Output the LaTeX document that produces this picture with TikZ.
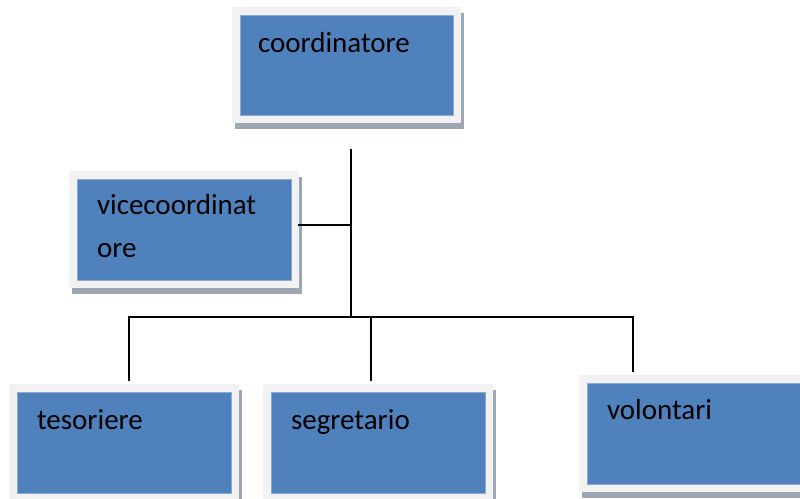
\documentclass[tikz,border=0pt]{standalone}
\usepackage{fontspec}
\setmainfont{Carlito}
\usetikzlibrary{shadows}

\definecolor{boxblue}{RGB}{79,129,189}
\definecolor{boxedge}{RGB}{140,170,215}
\definecolor{framegray}{RGB}{242,242,242}
\definecolor{shadowgray}{RGB}{158,166,180}

\tikzset{
  orgbox/.style={rectangle, fill=framegray, inner sep=0pt,
    minimum width=230pt, minimum height=117pt,
    drop shadow={shadow xshift=3pt, shadow yshift=-6pt, fill=shadowgray, opacity=1},
    path picture={\fill[boxblue, draw=boxedge, line width=.8pt]
      ([shift={(8pt,-8pt)}]path picture bounding box.north west) rectangle
      ([shift={(-8pt,8pt)}]path picture bounding box.south east);}},
  boxtext/.style={anchor=base west, inner sep=0pt, align=left,
    font=\fontsize{29}{43}\selectfont},
  link/.style={line width=2.2pt, line cap=rect}
}

\begin{document}
\begin{tikzpicture}[x=1pt, y=-1pt]
  \useasboundingbox (0,0) rectangle (800,498);
  % boxes
  \node[orgbox, minimum width=229pt, minimum height=116pt] (coord) at (346.5,65) {};
  \node[orgbox] (vice) at (184,229.5) {};
  \node[orgbox] (tes) at (124,442.5) {};
  \node[orgbox] (seg) at (378,442.5) {};
  \node[orgbox] (vol) at (694,433.5) {};
  % labels (base of a two-line node is its last line)
  \node[boxtext] (coordtxt) at ([shift={(26pt,-46pt)}]coord.north west) {coordinatore};
  \node[boxtext] (vicetxt) at ([shift={(28pt,-87pt)}]vice.north west) {vicecoordinat\\ore};
  \node[boxtext] (testxt) at ([shift={(28pt,-46pt)}]tes.north west) {tesoriere};
  \node[boxtext] (segtxt) at ([shift={(28pt,-46pt)}]seg.north west) {segretario};
  \node[boxtext] (voltxt) at ([shift={(28pt,-45pt)}]vol.north west) {volontari};
  % connectors
  \coordinate (top) at (351,150);
  \coordinate (bar) at (351,317);
  \coordinate (b1) at (129,317);
  \coordinate (b2) at (371,317);
  \coordinate (b3) at (633,317);
  \draw[link] (top) -- (bar);
  \draw[link] ([yshift=4.5pt]vice.east) -- ([yshift=4.5pt]vice.east -| top);
  \draw[link] (b1) -- (b3);
  \foreach \c/\n in {b1/tes, b2/seg, b3/vol}
    \draw[link, line cap=butt, shorten >=3pt] (\c) -- (\c |- \n.north);
\end{tikzpicture}
\end{document}
